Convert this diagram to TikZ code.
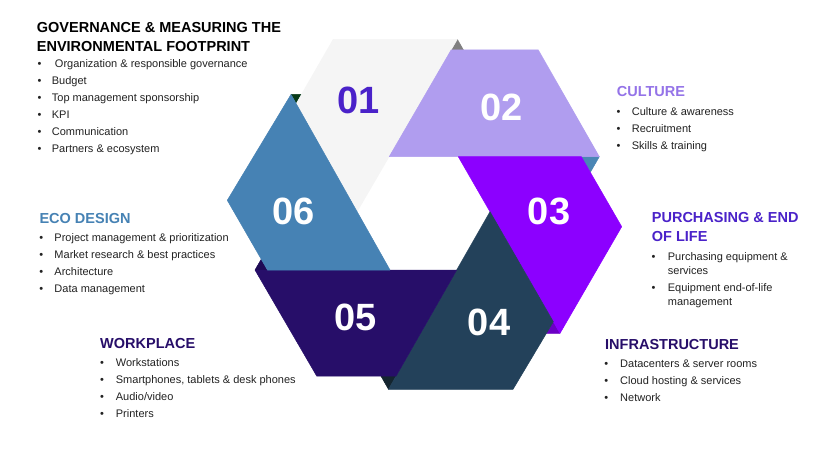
\documentclass[tikz,border=0pt]{standalone}
\usepackage{fontspec}
\setmainfont{Liberation Sans}
\definecolor{cA}{HTML}{F5F5F5}
\definecolor{cB}{HTML}{B09DEF}
\definecolor{cC}{HTML}{8C00FF}
\definecolor{cD}{HTML}{23415A}
\definecolor{cE}{HTML}{270E69}
\definecolor{cF}{HTML}{4682B4}
\definecolor{fA}{HTML}{808080}
\definecolor{fB}{HTML}{4A86B5}
\definecolor{fC}{HTML}{6B00C4}
\definecolor{fD}{HTML}{14252F}
\definecolor{fE}{HTML}{1E0A55}
\definecolor{fF}{HTML}{073A18}
\definecolor{numA}{HTML}{4A22C9}
\definecolor{hdB}{HTML}{9473E8}
\definecolor{hdC}{HTML}{4A22C9}
\definecolor{hdE}{HTML}{270E69}
\definecolor{bodytxt}{HTML}{222222}
\newcommand{\myitem}[5]{\node[itm] (#1) at (#2,#3) {\makebox[#4pt][l]{\textbullet}#5};}
\begin{document}
\begin{tikzpicture}[x=1pt,y=-1pt,
  piece/.style={line width=0.5pt, line join=round},
  num/.style={font=\bfseries\fontsize{38}{40}\selectfont, inner sep=0pt, text=white},
  head/.style={font=\bfseries\fontsize{14.5}{17}\selectfont, anchor=base west, inner sep=0pt},
  itm/.style={font=\fontsize{11}{13}\selectfont, anchor=base west, inner sep=0pt, text=bodytxt}]
\useasboundingbox (0,0) rectangle (826,468);
\fill[white] (0,0) rectangle (826,468);
% inner hexagon vertices
\coordinate (H1) at (389.2,156.7);
\coordinate (H2) at (458.3,156.7);
\coordinate (H3) at (490,211.7);
\coordinate (H4) at (456.7,270);
\coordinate (H5) at (390,270);
\coordinate (H6) at (357,211.7);
% piece corners
\coordinate (B1) at (457.3,39.3);  \coordinate (C1) at (333.3,39.3);  \coordinate (D1) at (296.2,103.7);
\coordinate (B2) at (599.3,156.7); \coordinate (C2) at (538.3,50);    \coordinate (D2) at (451.1,50);
\coordinate (B3) at (560,333.3);   \coordinate (C3) at (621.7,226.7); \coordinate (D3) at (581.3,156.7);
\coordinate (B4) at (388.5,389.3); \coordinate (C4) at (513,389.3);   \coordinate (D4) at (553.3,321.7);
\coordinate (B5) at (255,270);     \coordinate (C5) at (316.7,376);   \coordinate (D5) at (396.1,376);
\coordinate (B6) at (291,94.5);    \coordinate (C6) at (227.3,200.3); \coordinate (D6) at (267.5,270);
% fold triangle tips
\coordinate (E1) at (463.5,50);
\coordinate (E2) at (590.3,172.3);
\coordinate (E3) at (546.4,333.3);
\coordinate (E4) at (380.9,376);
\coordinate (E5) at (261.25,259.2);
\coordinate (E6) at (301.4,94.5);
% folds
\filldraw[piece, fill=fA, draw=fA] (B1) -- (D2) -- (E1) -- cycle;
\filldraw[piece, fill=fB, draw=fB] (B2) -- (D3) -- (E2) -- cycle;
\filldraw[piece, fill=fC, draw=fC] (B3) -- (D4) -- (E3) -- cycle;
\filldraw[piece, fill=fD, draw=fD] (B4) -- (D5) -- (E4) -- cycle;
\filldraw[piece, fill=fE, draw=fE] (B5) -- (D6) -- (E5) -- cycle;
\filldraw[piece, fill=fF, draw=fF] (B6) -- (D1) -- (E6) -- cycle;
% pieces
\filldraw[piece, fill=cA, draw=cA] (H6) -- (B1) -- (C1) -- (D1) -- cycle;
\filldraw[piece, fill=cB, draw=cB] (H1) -- (B2) -- (C2) -- (D2) -- cycle;
\filldraw[piece, fill=cC, draw=cC] (H2) -- (B3) -- (C3) -- (D3) -- cycle;
\filldraw[piece, fill=cD, draw=cD] (H3) -- (B4) -- (C4) -- (D4) -- cycle;
\filldraw[piece, fill=cE, draw=cE] (H4) -- (B5) -- (C5) -- (D5) -- cycle;
\filldraw[piece, fill=cF, draw=cF] (H5) -- (B6) -- (C6) -- (D6) -- cycle;
% numbers
\node[num, text=numA] (n1) at (358.3,100) {01};
\node[num] (n2) at (501.7,107.3) {02};
\node[num] (n3) at (549,211.7) {03};
\node[num] (n4) at (489,322.3) {04};
\node[num] (n5) at (355.7,317.3) {05};
\node[num] (n6) at (294,211.7) {06};
% governance
\node[head, text=black] (hg1) at (36.7,33) {GOVERNANCE \& MEASURING THE};
\node[head, text=black] (hg2) at (36.7,51.3) {ENVIRONMENTAL FOOTPRINT};
\myitem{g1}{37.4}{67.1}{14.3}{\ Organization \& responsible governance}
\myitem{g2}{37.4}{84.5}{14.3}{Budget}
\myitem{g3}{37.4}{101.5}{14.3}{Top management sponsorship}
\myitem{g4}{37.4}{118.1}{14.3}{KPI}
\myitem{g5}{37.4}{135.5}{14.3}{Communication}
\myitem{g6}{37.4}{152.1}{14.3}{Partners \& ecosystem}
% culture
\node[head, text=hdB] (hc) at (616.7,97) {CULTURE};
\myitem{c1}{616.4}{115.5}{15.3}{Culture \& awareness}
\myitem{c2}{616.4}{132.5}{15.3}{Recruitment}
\myitem{c3}{616.4}{149.5}{15.3}{Skills \& training}
% purchasing
\node[head, text=hdC] (hp1) at (651.7,222.7) {PURCHASING \& END};
\node[head, text=hdC] (hp2) at (651.7,241.5) {OF LIFE};
\myitem{p1}{651.4}{260.5}{16.3}{Purchasing equipment \&}
\node[itm] (p1b) at (667.7,274.5) {services};
\myitem{p2}{651.4}{291.1}{16.3}{Equipment end-of-life}
\node[itm] (p2b) at (667.7,305.5) {management};
% infrastructure
\node[head, text=hdE] (hi) at (605,349) {INFRASTRUCTURE};
\myitem{i1}{604.1}{367.8}{15.9}{Datacenters \& server rooms}
\myitem{i2}{604.1}{384.5}{15.9}{Cloud hosting \& services}
\myitem{i3}{604.1}{401.1}{15.9}{Network}
% eco design
\node[head, text=cF] (he) at (39.3,223) {ECO DESIGN};
\myitem{e1}{39.1}{241.5}{15.2}{Project management \& prioritization}
\myitem{e2}{39.1}{258.1}{15.2}{Market research \& best practices}
\myitem{e3}{39.1}{275.1}{15.2}{Architecture}
\myitem{e4}{39.1}{292.1}{15.2}{Data management}
% workplace
\node[head, text=hdE] (hw) at (100,348.3) {WORKPLACE};
\myitem{w1}{99.8}{366.5}{15.9}{Workstations}
\myitem{w2}{99.8}{383.8}{15.9}{Smartphones, tablets \& desk phones}
\myitem{w3}{99.8}{400.5}{15.9}{Audio/video}
\myitem{w4}{99.8}{417.1}{15.9}{Printers}
\end{tikzpicture}
\end{document}
